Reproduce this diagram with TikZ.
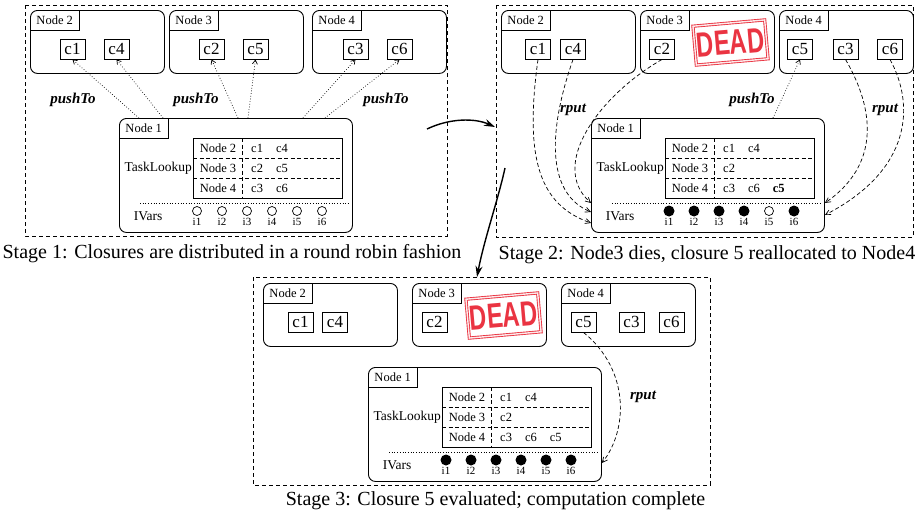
\documentclass[tikz,border=0pt]{standalone}
\usepackage{fontspec}
\setmainfont{Liberation Serif}
\newfontfamily\stampfont{Liberation Sans}
\usetikzlibrary{arrows.meta,calc}
\definecolor{stampred}{RGB}{232,30,45}

\newcommand\fs[1]{\fontsize{#1}{#1}\selectfont}
\newcommand\gap{\hspace{13pt}}

\tikzset{
  panel/.style={dash pattern=on 4pt off 3pt, line width=0.8pt},
  procbox/.style={draw, rounded corners=7pt, line width=0.9pt, minimum width=134pt, minimum height=63pt, inner sep=0pt},
  mainbox/.style={draw, rounded corners=7pt, line width=0.9pt, minimum width=233pt, minimum height=114pt, inner sep=0pt},
  boxlabel/.style={minimum width=49pt, minimum height=20pt, inner sep=0pt, font=\fs{12.5}},
  labelline/.style={line width=0.9pt},
  clos/.style={draw, line width=0.9pt, minimum width=25pt, minimum height=20pt, inner sep=0pt, font=\fs{17}},
  tbl/.style={draw, line width=0.9pt, minimum width=149pt, minimum height=60pt, inner sep=0pt},
  tabsep/.style={dash pattern=on 4pt off 2.5pt, line width=0.8pt},
  tabtext/.style={font=\fs{12.5}, inner sep=0pt},
  ivfull/.style={circle, fill, minimum size=11pt, inner sep=0pt},
  ivempty/.style={circle, draw, line width=0.7pt, minimum size=9pt, inner sep=0pt},
  ivlab/.style={font=\fs{11}, inner sep=0pt},
  dotline/.style={dotted, line width=0.7pt},
  pushline/.style={dotted, line width=0.7pt, -{Straight Barb[length=4pt,width=5pt]}},
  rputline/.style={dash pattern=on 4pt off 2.5pt, line width=0.7pt, -{Straight Barb[length=5pt,width=5pt]}},
  arrlabel/.style={font=\fs{15}\bfseries\itshape, inner sep=0pt},
  caption/.style={font=\fs{20}, inner sep=0pt, anchor=base},
  stagearrow/.style={line width=1.4pt, -{Stealth[length=11pt,width=7pt]}},
  stamp/.style={draw=stampred, double=white, double distance=1.4pt, line width=0.9pt,
    rotate=5, minimum width=72pt, minimum height=39pt, inner sep=0pt, text=stampred,
    font=\stampfont\bfseries\fs{35}, opacity=0.9}
}

% a worker node: rounded box with its name in a tab at the top left
\newcommand\procbox[4]{%
  \node[procbox, anchor=north west] (#1) at (#2,#3) {};
  \node[boxlabel, anchor=north west] (#1lab) at (#1.north west) {#4};
  \draw[labelline] (#1lab.north east) |- (#1lab.south west);
}

% the master node: task lookup table and IVars
% #1 name, #2 #3 top-left corner, #4-#6 table rows, #7 IVar styles
\newcommand\mainnode[7]{%
  \begin{scope}[shift={(#2,#3)}]
    \node[mainbox, anchor=north west] (#1) at (0,0) {};
    \node[boxlabel, anchor=north west] (#1lab) at (#1.north west) {Node 1};
    \draw[labelline] (#1lab.north east) |- (#1lab.south west);
    \node[tbl, anchor=north west] (#1tab) at (74,20) {};
    \draw[tabsep] (123,20) -- (123,80);
    \draw[tabsep] (74,40) -- (223,40);
    \draw[tabsep] (74,60) -- (223,60);
    \node[tabtext] (#1r2) at (99,30) {Node 2};
    \node[tabtext] (#1r3) at (99,50) {Node 3};
    \node[tabtext] (#1r4) at (99,70) {Node 4};
    \node[tabtext, anchor=west] (#1v2) at (132,30) {#4};
    \node[tabtext, anchor=west] (#1v3) at (132,50) {#5};
    \node[tabtext, anchor=west] (#1v4) at (132,70) {#6};
    \node[tabtext, font=\fs{13.5}, anchor=east] (#1tl) at (73,50) {TaskLookup};
    \draw[dotline] (21,85) -- (229,85);
    \node[tabtext, font=\fs{13.5}] (#1iv) at (29,98) {IVars};
    \foreach \s [count=\k] in {#7} {
      \node[\s] (#1i\k) at ({53+25*\k},93) {};
      \node[ivlab] (#1il\k) at ({53+25*\k},104) {i\k};
    }
  \end{scope}
}

\begin{document}
\begin{tikzpicture}[x=1pt,y=-1pt]
\useasboundingbox (0,0) rectangle (915,514);

% ---------------- Stage 1 ----------------
\draw[panel] (25,5) rectangle (447,236);
\procbox{sa2}{30}{10}{Node 2}
\procbox{sa3}{169}{10}{Node 3}
\procbox{sa4}{312}{10}{Node 4}
\node[clos] (sac1) at (72.5,49) {c1};
\node[clos] (sac4) at (116.5,49) {c4};
\node[clos] (sac2) at (211.5,49) {c2};
\node[clos] (sac5) at (255.5,49) {c5};
\node[clos] (sac3) at (355.5,49) {c3};
\node[clos] (sac6) at (399.5,49) {c6};
\mainnode{sa1}{119}{118}{c1\gap c4}{c2\gap c5}{c3\gap c6}{ivempty,ivempty,ivempty,ivempty,ivempty,ivempty}
\draw[pushline] ($(sa1.north west)+(20,0)$) -- (sac1.south);
\draw[pushline] ($(sa1.north west)+(44,0)$) -- (sac4.south);
\draw[pushline] ($(sa1.north west)+(119,0)$) -- (sac2.south);
\draw[pushline] ($(sa1.north west)+(129,0)$) -- (sac5.south);
\draw[pushline] ($(sa1.north west)+(184,0)$) -- (sac3.south);
\draw[pushline] ($(sa1.north west)+(206,0)$) -- (sac6.south);
\node[arrlabel] (sap1) at (73,100) {pushTo};
\node[arrlabel] (sap2) at (196,100) {pushTo};
\node[arrlabel] (sap3) at (386,100) {pushTo};
\node[caption] (cap1) at (232,258) {Stage 1: Closures are distributed in a round robin fashion};

% ---------------- Stage 2 ----------------
\draw[panel] (496,5) rectangle (913,237);
\procbox{sb2}{501}{10}{Node 2}
\procbox{sb3}{640}{10}{Node 3}
\procbox{sb4}{779}{10}{Node 4}
\node[clos] (sbc1) at (538,49) {c1};
\node[clos] (sbc4) at (573,49) {c4};
\node[clos] (sbc2) at (662,49) {c2};
\node[clos] (sbc5) at (800,49) {c5};
\node[clos] (sbc3) at (845.5,49) {c3};
\node[clos] (sbc6) at (890,49) {c6};
\node[stamp] (sbdead) at (730.5,42.5) {\scalebox{0.68}[1]{DEAD}};
\mainnode{sb1}{591}{118}{c1\gap c4}{c2}{c3\gap c6\gap \textbf{c5}}{ivfull,ivfull,ivfull,ivfull,ivempty,ivfull}
\coordinate (sbe1) at ($(sb1.north west)+(0,105)$);
\coordinate (sbe2) at ($(sb1.north west)+(0,94)$);
\coordinate (sbe3) at ($(sb1.north west)+(0,85)$);
\coordinate (sbe4) at ($(sb1.north east)+(0,85)$);
\coordinate (sbe5) at ($(sb1.north east)+(0,97)$);
\draw[rputline] (sbc1.south) .. controls (524,160) and (540,205) .. (sbe1);
\draw[rputline] (sbc4.south) .. controls (545,140) and (550,195) .. (sbe2);
\draw[rputline] (sbc2.south) .. controls (600,95) and (548,165) .. (sbe3);
\draw[rputline] (sbc3.south) .. controls (875,110) and (880,165) .. (sbe4);
\draw[rputline] (sbc6.south) .. controls (915,105) and (912,170) .. (sbe5);
\draw[pushline] ($(sb1.north west)+(182,0)$) -- (sbc5.south);
\node[arrlabel] (sbp1) at (752,100) {pushTo};
\node[arrlabel] (sbr1) at (573,110) {rput};
\node[arrlabel] (sbr2) at (885,110) {rput};
\node[caption] (cap2) at (707,259) {Stage 2: Node3 dies, closure 5 reallocated to Node4};

% ---------------- Stage 3 ----------------
\draw[panel] (253,277) rectangle (710,485);
\procbox{sc2}{263}{283}{Node 2}
\procbox{sc3}{412}{283}{Node 3}
\procbox{sc4}{561}{283}{Node 4}
\node[clos] (scc1) at (300.5,322) {c1};
\node[clos] (scc4) at (335,322) {c4};
\node[clos] (scc2) at (434.5,322) {c2};
\node[clos] (scc5) at (583.5,322) {c5};
\node[clos] (scc3) at (631.5,322) {c3};
\node[clos] (scc6) at (671.5,322) {c6};
\node[stamp] (scdead) at (503.5,315.5) {\scalebox{0.68}[1]{DEAD}};
\mainnode{sc1}{368}{367}{c1\gap c4}{c2}{c3\gap c6\gap c5}{ivfull,ivfull,ivfull,ivfull,ivfull,ivfull}
\coordinate (sce1) at ($(sc1.north east)+(0,96)$);
\draw[rputline] (scc5.south) .. controls (630,370) and (628,430) .. (sce1);
\node[arrlabel] (scr1) at (643,397) {rput};
\node[caption] (cap3) at (495.5,505) {Stage 3: Closure 5 evaluated; computation complete};

% ---------------- transitions between stages ----------------
\coordinate (t1a) at (427,129);
\coordinate (t1b) at (495,127);
\coordinate (t2a) at (505,168);
\coordinate (t2b) at (477,277);
\draw[stagearrow] (t1a) .. controls (450,118) and (475,118) .. (t1b);
\draw[stagearrow] (t2a) .. controls (498,200) and (484,240) .. (t2b);
\end{tikzpicture}
\end{document}
